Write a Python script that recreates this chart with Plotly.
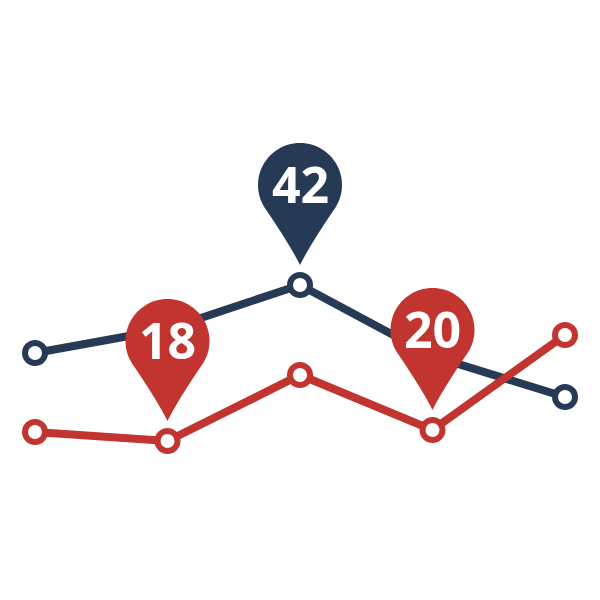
import math
import plotly.graph_objs as go

# data
x_pos = [0, 1, 2, 3, 4]
navy_values = [24.7, 27.1, 31.5, 24.4, 20.3]
red_values = [16.8, 15.9, 22.5, 17.0, 26.5]

# pins: which series, which point, what label
pin_series = ["navy", "red", "red"]
pin_index = [2, 1, 3]
pin_labels = ["42", "18", "20"]

colors = {"navy": "#263a56", "red": "#c1342f"}
series_values = {"navy": navy_values, "red": red_values}


def pin_path():
    # teardrop in pixels relative to the data point (y up)
    tip = 20
    cy = 100
    r = 42
    a0 = math.radians(-37)
    pts = []
    # left tangent point to right tangent point, over the top
    start = math.pi - a0
    end = a0
    n = 60
    for i in range(n + 1):
        a = start + (end - start) * i / n
        pts.append((r * math.cos(a), cy + r * math.sin(a)))
    path = "M 0,%d " % tip
    lx, ly = pts[0]
    path += "Q -10,40 %.2f,%.2f " % (lx, ly)
    for px, py in pts[1:]:
        path += "L %.2f,%.2f " % (px, py)
    path += "Q 10,40 0,%d Z" % tip
    return path


fig = go.Figure()

for name in ["navy", "red"]:
    fig.add_trace(go.Scatter(
        x=x_pos,
        y=series_values[name],
        mode="lines+markers",
        line=dict(color=colors[name], width=8),
        marker=dict(size=20, color="white", line=dict(color=colors[name], width=6)),
        hoverinfo="skip",
        showlegend=False
    ))

shapes = []
annotations = []
for s, i, label in zip(pin_series, pin_index, pin_labels):
    shapes.append(dict(
        type="path",
        xref="x", yref="y",
        xsizemode="pixel", ysizemode="pixel",
        xanchor=x_pos[i], yanchor=series_values[s][i],
        path=pin_path(),
        fillcolor=colors[s],
        line=dict(width=0),
        layer="above"
    ))
    annotations.append(dict(
        x=x_pos[i], y=series_values[s][i],
        xref="x", yref="y",
        text="<b>" + label + "</b>",
        showarrow=False,
        yshift=101,
        font=dict(family="Open Sans", size=50, color="white")
    ))

fig.update_layout(
    width=600, height=600,
    margin=dict(l=0, r=0, t=0, b=0),
    paper_bgcolor="white",
    plot_bgcolor="white",
    shapes=shapes,
    annotations=annotations,
    xaxis=dict(visible=False, range=[-0.2038, 4.3245]),
    yaxis=dict(visible=False, range=[-0.8, 59.2]),
)

fig.write_html("out.html")
